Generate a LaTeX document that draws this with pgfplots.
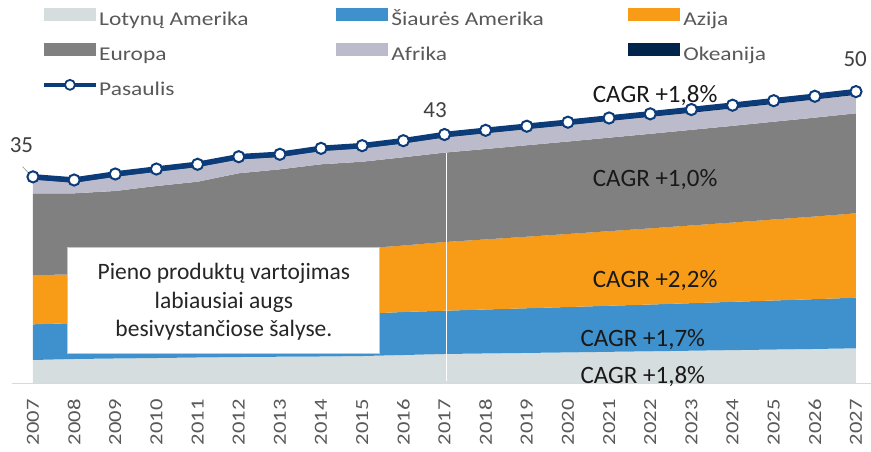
\documentclass[border=0pt]{standalone}
\usepackage{fontspec}
\setmainfont{Carlito}
\newfontfamily\legfont[FakeStretch=1.2]{Carlito}
\newfontfamily\tickfontfam[FakeStretch=1.22]{Carlito}
\usepackage{pgfplots}
\pgfplotsset{compat=1.18}
\usepackage{pgfplotstable}

\definecolor{cLat}{HTML}{D6DDDF}
\definecolor{cSia}{HTML}{3E91CC}
\definecolor{cAzi}{HTML}{F89C17}
\definecolor{cEur}{HTML}{808080}
\definecolor{cAfr}{HTML}{BCBBCC}
\definecolor{cOke}{HTML}{01244A}
\definecolor{cPas}{HTML}{0B3C79}
\definecolor{cTxt}{HTML}{595959}
\definecolor{cNum}{HTML}{404040}
\definecolor{cBox}{HTML}{C8C8C8}
\definecolor{cAxis}{HTML}{D9D9D9}

\newcommand\legsize{\legfont\fontsize{19.5}{23}\selectfont}
\newcommand\tickfont{\tickfontfam\fontsize{18.5}{22}\selectfont}
\newcommand\cagrfont{\fontsize{25}{30}\selectfont}
\newcommand\boxfont{\fontsize{23.5}{28}\selectfont}
\newcommand\numfont{\fontsize{23}{27}\selectfont}
\newcommand\legtext[1]{\makebox[236.8pt][l]{\rule[-11.6pt]{0pt}{35.2pt}#1}}

\pgfplotsset{
  arealeg/.style={legend image code/.code={\path[draw=none,fill=none] (0pt,-17.6pt) rectangle (55.3pt,17.6pt);
     \fill[#1] (0pt,-6.65pt) rectangle (52pt,6.65pt);}},
}

\pgfplotstableread{
year L S A E Af Oc W
2007 3.94 6.11 8.44 13.99 2.37 0.45 35.30
2008 4.11 6.14 8.33 13.90 1.83 0.45 34.76
2009 4.20 6.30 8.70 13.68 2.46 0.45 35.79
2010 4.28 6.42 9.15 13.88 2.46 0.45 36.64
2011 4.37 6.58 9.55 13.97 2.53 0.45 37.45
2012 4.45 6.70 9.95 14.81 2.39 0.45 38.75
2013 4.50 6.90 10.35 14.84 2.12 0.45 39.16
2014 4.54 7.06 10.80 15.05 2.28 0.45 40.18
2015 4.62 7.23 11.18 14.86 2.30 0.45 40.64
2016 4.79 7.37 11.38 15.11 2.39 0.45 41.49
2017 4.97 7.41 11.76 15.31 2.60 0.50 42.55
2018 5.06 7.53 12.00 15.48 2.70 0.50 43.27
2019 5.15 7.65 12.25 15.66 2.76 0.50 43.97
2020 5.24 7.77 12.51 15.83 2.81 0.50 44.66
2021 5.34 7.89 12.77 16.01 2.87 0.50 45.38
2022 5.43 8.01 13.04 16.19 2.92 0.50 46.09
2023 5.53 8.14 13.31 16.37 2.93 0.55 46.83
2024 5.63 8.27 13.58 16.55 2.99 0.55 47.57
2025 5.73 8.40 13.87 16.74 3.05 0.55 48.34
2026 5.83 8.53 14.15 16.93 3.11 0.55 49.10
2027 5.94 8.67 14.45 17.12 3.17 0.55 49.90
}\data

\begin{document}
\begin{tikzpicture}
\useasboundingbox (-12.4pt,-68pt) rectangle (858.6pt,383pt);
\begin{axis}[
  scale only axis,
  width=858.6pt, height=362.08pt,
  xmin=2006.5, xmax=2027.365,
  ymin=0, ymax=62,
  clip=false,
  axis x line*=bottom,
  axis y line=none,
  x axis line style={-, draw=cAxis, line width=1pt},
  ytick=\empty,
  xtick={2007,2008,2009,2010,2011,2012,2013,2014,2015,2016,2017,2018,2019,2020,2021,2022,2023,2024,2025,2026,2027},
  xticklabels={2007,2008,2009,2010,2011,2012,2013,2014,2015,2016,2017,2018,2019,2020,2021,2022,2023,2024,2025,2026,2027},
  major tick length=0pt,
  xticklabel shift=16.3pt,
  xticklabel style={rotate=90, anchor=east, inner sep=0pt, font=\tickfont, text=cTxt},
  legend columns=3,
  legend cell align=left,
  legend style={at={(axis description cs:0.03412,1.0665)}, anchor=north west,
    draw=none, fill=none, inner sep=0pt, outer sep=0pt,
    column sep=0pt, row sep=0pt, font=\legsize, text=cTxt,
    nodes={inner sep=0pt, outer sep=0pt}},
]
\addplot[draw=none, fill=cLat, no marks, stack plots=y, arealeg=cLat] table[x=year,y=L]{\data} \closedcycle;
\addlegendentry{\legtext{Lotynų Amerika}}
\addplot[draw=none, fill=cSia, no marks, stack plots=y, arealeg=cSia] table[x=year,y=S]{\data} \closedcycle;
\addlegendentry{\legtext{Šiaurės Amerika}}
\addplot[draw=none, fill=cAzi, no marks, stack plots=y, arealeg=cAzi] table[x=year,y=A]{\data} \closedcycle;
\addlegendentry{\legtext{Azija}}
\addplot[draw=none, fill=cEur, no marks, stack plots=y, arealeg=cEur] table[x=year,y=E]{\data} \closedcycle;
\addlegendentry{\legtext{Europa}}
\addplot[draw=none, fill=cAfr, no marks, stack plots=y, arealeg=cAfr] table[x=year,y=Af]{\data} \closedcycle;
\addlegendentry{\legtext{Afrika}}
\addplot[draw=none, fill=cOke, no marks, stack plots=y, arealeg=cOke] table[x=year,y=Oc]{\data} \closedcycle;
\addlegendentry{\legtext{Okeanija}}

\draw[white, line width=1.2pt] (axis cs:2017.04,39.3) -- (axis cs:2017.04,0.3);

\addplot[color=cPas, line width=5.5pt, mark=*, mark size=5.6pt,
  mark options={fill=white, draw=cPas, line width=2pt},
  legend image code/.code={\path[draw=none,fill=none] (0pt,-17.6pt) rectangle (55.3pt,17.6pt);
    \draw[cPas, line width=4.5pt] (0pt,0pt) -- (52pt,0pt);
    \draw[cPas, line width=1.8pt, fill=white] (26pt,0pt) circle (5.0pt);}]
  table[x=year,y=W]{\data};
\addlegendentry{\legtext{Pasaulis}}

\draw[black!35, line width=0.8pt] (axis cs:2006.75,37.04) -- (axis cs:2006.94,35.6);
\node[font=\numfont, text=cNum] at (axis cs:2006.72,40.67) {35};
\node[font=\numfont, text=cNum] at (axis cs:2016.77,46.7) {43};
\node[font=\numfont, text=cNum] at (axis cs:2026.98,55.45) {50};

\node[font=\cagrfont, text=black!90, anchor=base] at (axis cs:2022.12,48.0) {CAGR +1,8\%};
\node[font=\cagrfont, text=black!90, anchor=base] at (axis cs:2022.12,33.61) {CAGR +1,0\%};
\node[font=\cagrfont, text=black!90, anchor=base] at (axis cs:2022.12,16.39) {CAGR +2,2\%};
\node[font=\cagrfont, text=black!90, anchor=base] at (axis cs:2021.82,6.22) {CAGR +1,7\%};
\node[font=\cagrfont, text=black!90, anchor=base] at (axis cs:2021.82,-0.17) {CAGR +1,8\%};

\draw[draw=cBox, fill=white, line width=1pt] (axis cs:2007.85,23.12) rectangle (axis cs:2015.43,4.97);
\node[font=\boxfont, text=black!85, anchor=base] at (axis cs:2011.64,17.64) {Pieno produktų vartojimas};
\node[font=\boxfont, text=black!85, anchor=base] at (axis cs:2011.64,12.79) {labiausiai augs};
\node[font=\boxfont, text=black!85, anchor=base] at (axis cs:2011.64,7.93) {besivystančiose šalyse.};
\end{axis}
\end{tikzpicture}
\end{document}
